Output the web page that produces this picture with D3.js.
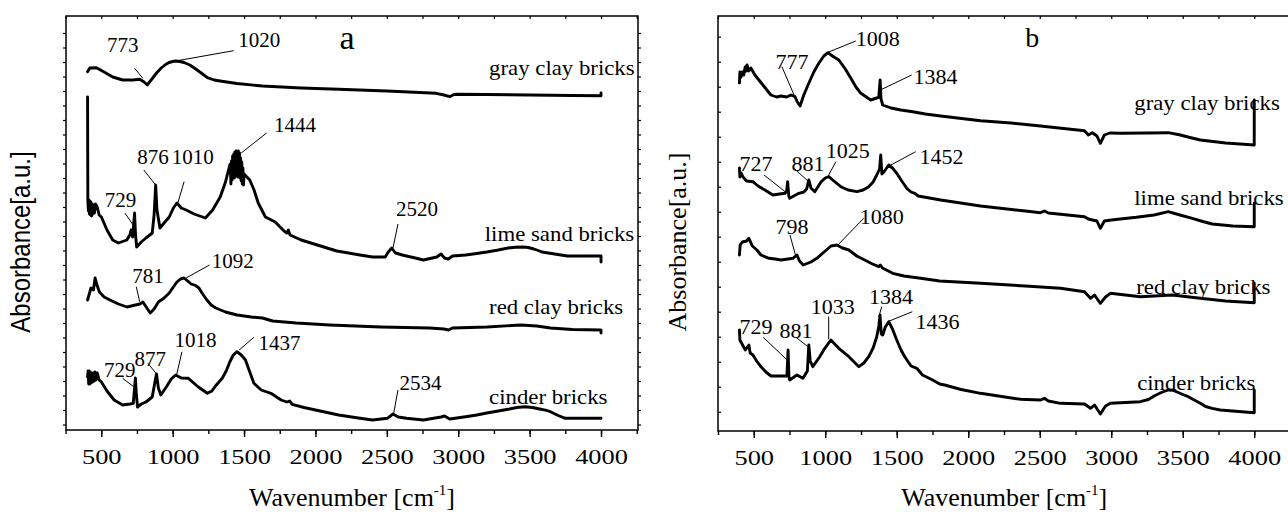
<!DOCTYPE html>
<html>
<head>
<meta charset="utf-8">
<script src="https://cdn.jsdelivr.net/npm/d3@7"></script>
<style>
  body { margin: 0; background: #fff; }
  svg { display: block; }
  .serif { font-family: "Liberation Serif", "Times New Roman", Tinos, "DejaVu Serif", serif; }
  .sans { font-family: "Liberation Sans", Arial, Arimo, "DejaVu Sans", sans-serif; }
</style>
</head>
<body>
<svg id="chart" width="1288" height="514"></svg>
<script>
// ---------- axis ticks ----------
const xTickValues = [500, 1000, 1500, 2000, 2500, 3000, 3500, 4000];
const xTickLabels = ["500", "1000", "1500", "2000", "2500", "3000", "3500", "4000"];
const xMinorTicks = d3.range(250, 4300, 250);

// ---------- panel a spectra: [wavenumber, absorbance (stacked, a.u.)] ----------
const aGray = [
  [404,35.83],[420,36.2],[466,36.23],[520,35.8],[580,35.3],[650,35.0],[720,35.0],[769,35.07],
  [800,34.8],[822,34.5],[860,35.2],[890,35.75],[920,36.2],[950,36.55],[975,36.75],[1000,36.85],[1021,36.9],
  [1050,36.85],[1080,36.75],[1120,36.5],[1154,36.17],[1200,35.7],[1243,35.23],[1290,35.0],[1332,34.9],
  [1450,34.65],[1629,34.4],[1900,34.2],[2163,34.07],[2500,33.9],[2845,33.67],[2900,33.5],[2940,33.33],
  [2970,33.55],[2994,33.57],[3200,33.55],[3498,33.5],[3800,33.45],[4000,33.43],[4000,33.7]
];
const aLime = [
  [404,33.3],[405,28.0],[406,23.0],[410,21.9],[413,23.0],[417,21.6],[420,22.9],[424,21.5],[428,22.8],
  [432,21.4],[436,22.6],[440,21.6],[446,22.5],[452,21.7],[460,22.6],[472,22.3],[485,21.5],[501,21.3],
  [540,20.0],[580,19.0],[620,18.7],[679,19.0],[700,19.5],[709,20.0],[720,19.3],[733,21.7],[740,19.5],
  [748,18.3],[780,18.8],[813,19.2],[857,19.7],[870,21.5],[881,24.5],[890,22.0],[911,20.2],[940,20.7],
  [976,21.3],[1005,22.2],[1030,22.7],[1060,22.2],[1095,22.0],[1150,21.6],[1229,21.2],[1280,22.0],[1333,23.3],
  [1370,24.8],[1400,26.5],[1404,26.6],[1408,24.6],[1412,26.9],[1416,25.0],[1420,27.4],[1424,25.3],
  [1428,27.6],[1432,25.2],[1436,27.8],[1440,25.4],[1444,27.9],[1448,25.6],[1452,27.8],[1456,25.3],
  [1460,27.9],[1464,25.5],[1468,27.7],[1472,25.2],[1476,27.2],[1480,24.9],[1484,26.8],[1488,24.6],
  [1492,26.2],[1496,24.5],[1500,25.6],[1540,25.0],[1570,24.0],[1599,22.7],[1650,21.3],[1718,20.8],
  [1780,19.9],[1800,19.7],[1810,20.0],[1822,19.5],[1900,19.0],[2013,18.5],[2150,17.9],[2311,17.5],
  [2400,17.3],[2489,17.3],[2510,17.8],[2534,18.2],[2560,17.7],[2608,17.5],[2700,17.2],[2756,17.0],
  [2850,17.3],[2880,17.6],[2904,17.2],[2930,17.1],[2960,17.4],[3052,17.5],[3130,17.65],[3200,17.8],
  [3280,18.0],[3349,18.2],[3400,18.28],[3453,18.3],[3490,18.25],[3530,18.1],[3560,17.95],[3587,17.8],
  [3675,17.6],[3764,17.4],[4000,17.4],[4000,16.8]
];
const aRed = [
  [404,13.0],[428,14.2],[445,14.0],[457,15.2],[470,14.5],[487,13.8],[520,13.3],[561,13.0],[620,12.6],
  [680,12.3],[740,12.5],[770,12.6],[792,12.8],[810,12.4],[843,11.7],[870,12.1],[900,12.8],[940,13.2],
  [976,13.7],[1005,14.3],[1030,14.8],[1055,15.1],[1080,15.2],[1105,14.9],[1130,14.6],[1160,14.45],
  [1184,14.2],[1210,13.6],[1240,13.0],[1270,12.5],[1302,12.2],[1370,11.8],[1451,11.5],[1550,11.3],
  [1629,11.2],[1700,10.9],[1866,10.7],[2100,10.5],[2459,10.3],[2800,10.2],[2900,10.1],[2933,10.0],
  [2960,10.2],[3201,10.3],[3438,10.5],[3550,10.4],[3646,10.2],[3800,10.05],[4000,10.0],[4000,9.7]
];
const aCinder = [
  [404,5.3],[408,5.9],[412,4.6],[416,5.9],[420,4.6],[424,5.8],[428,4.7],[432,5.6],[438,4.8],[444,5.7],
  [450,4.9],[456,5.8],[462,5.0],[472,5.7],[485,5.0],[501,4.8],[540,3.9],[590,3.0],[650,2.5],[700,2.6],
  [724,2.67],[732,4.0],[739,5.2],[746,3.5],[754,2.3],[780,2.6],[813,2.8],[857,3.3],[872,4.5],[887,5.6],
  [900,4.2],[917,3.5],[960,4.4],[990,5.1],[1021,5.5],[1060,5.2],[1110,5.17],[1180,4.3],[1243,3.67],
  [1275,3.9],[1300,4.4],[1347,5.17],[1375,5.9],[1400,6.8],[1425,7.5],[1451,7.83],[1480,7.5],[1510,7.0],
  [1540,5.8],[1569,4.67],[1620,4.0],[1688,3.67],[1760,3.0],[1800,2.8],[1820,2.9],[1837,2.57],[1920,2.25],
  [2000,2.0],[2163,1.5],[2300,1.2],[2400,1.0],[2504,1.17],[2543,1.6],[2580,1.3],[2637,1.17],[2756,1.0],
  [2880,1.3],[2904,1.4],[2940,1.1],[3052,1.33],[3130,1.5],[3200,1.7],[3280,1.9],[3349,2.07],[3410,2.25],
  [3468,2.33],[3520,2.25],[3570,2.1],[3610,1.98],[3646,1.83],[3700,1.45],[3750,1.17],[4000,1.17]
];

// ---------- panel b spectra ----------
const bGray = [
  [400,34.8],[403,35.9],[412,35.4],[420,35.9],[430,35.6],[440,36.4],[447,36.0],[453,36.6],[465,36.0],
  [480,36.3],[508,35.6],[564,34.6],[620,33.6],[660,33.4],[690,33.5],[730,33.4],[760,33.6],[788,33.43],
  [805,32.9],[824,32.5],[850,33.6],[885,34.77],[920,35.9],[955,36.77],[990,37.5],[1019,37.83],[1050,37.5],
  [1095,37.1],[1140,36.2],[1179,35.27],[1215,34.4],[1249,33.77],[1318,33.1],[1360,33.3],[1374,33.37],
  [1384,35.1],[1390,33.2],[1402,32.6],[1460,32.3],[1528,32.1],[1612,31.93],[1700,31.7],[1807,31.5],
  [2086,31.03],[2300,30.8],[2505,30.5],[2813,30.03],[2840,29.6],[2868,29.83],[2900,29.5],[2924,28.77],
  [2952,29.6],[2990,29.8],[3064,29.77],[3250,29.8],[3399,29.83],[3483,29.6],[3550,29.35],[3623,29.1],
  [3800,28.8],[4000,28.6],[4000,33.1]
];
const bLime = [
  [400,26.3],[403,25.4],[412,25.8],[425,25.4],[450,25.0],[494,24.93],[530,24.5],[578,24.1],[634,23.6],
  [680,23.7],[718,23.77],[730,24.0],[737,24.93],[745,23.5],[751,23.27],[780,23.5],[816,23.77],[850,23.9],
  [870,24.2],[885,25.1],[900,24.3],[927,23.93],[970,24.9],[1000,25.3],[1025,25.43],[1060,25.0],[1109,24.43],
  [1160,24.1],[1221,23.93],[1265,24.1],[1304,24.43],[1335,24.9],[1360,25.6],[1380,26.2],[1388,27.6],
  [1396,25.7],[1410,25.9],[1444,26.6],[1470,26.3],[1500,25.77],[1535,25.0],[1570,24.27],[1600,23.9],
  [1626,23.77],[1650,23.5],[1807,23.1],[2086,22.5],[2400,22.0],[2505,21.83],[2533,22.0],[2560,21.8],
  [2813,21.43],[2840,21.2],[2868,21.1],[2900,21.0],[2924,20.27],[2952,21.0],[3000,21.1],[3176,21.37],
  [3300,21.6],[3399,21.93],[3480,21.6],[3567,21.27],[3640,20.95],[3706,20.7],[3850,20.5],[4000,20.43],
  [4000,22.77]
];
const bRed = [
  [400,17.6],[405,18.6],[420,18.9],[450,19.0],[466,19.27],[490,18.5],[522,18.1],[550,17.6],[606,17.27],
  [650,17.2],[690,17.1],[740,17.2],[774,17.27],[802,17.6],[820,17.0],[846,16.6],[900,16.9],[941,17.27],
  [1000,18.0],[1040,18.5],[1081,18.6],[1120,18.3],[1165,18.1],[1220,17.5],[1276,17.1],[1330,16.7],
  [1374,16.43],[1385,16.6],[1400,16.3],[1472,15.77],[1550,15.5],[1667,15.27],[1800,15.0],[2086,14.77],
  [2400,14.5],[2645,14.27],[2813,13.93],[2855,13.27],[2883,13.6],[2924,12.77],[2960,13.4],[2994,13.77],
  [3204,13.43],[3300,13.5],[3427,13.6],[3623,13.27],[3800,13.0],[4000,12.83],[4000,14.77]
];
const bCinder = [
  [400,10.1],[403,9.1],[441,8.1],[466,8.6],[475,7.8],[494,7.6],[520,7.0],[550,6.43],[585,5.9],[620,5.5],
  [690,5.5],[732,5.5],[740,8.1],[746,5.4],[751,5.1],[802,5.6],[844,5.27],[875,6.0],[885,8.6],[895,7.0],
  [913,6.43],[960,7.4],[997,8.27],[1039,9.1],[1095,8.27],[1165,7.43],[1235,6.43],[1270,6.8],[1304,7.43],
  [1335,8.3],[1360,9.43],[1375,10.5],[1383,11.6],[1392,9.7],[1402,9.6],[1420,10.4],[1444,10.93],
  [1470,10.2],[1500,9.1],[1530,8.1],[1556,7.43],[1600,6.5],[1640,6.27],[1680,5.6],[1751,5.1],[1800,4.7],
  [1835,4.6],[1950,4.15],[2086,3.77],[2366,3.17],[2505,3.1],[2533,3.27],[2560,3.0],[2645,2.77],[2813,2.7],
  [2855,2.27],[2883,2.6],[2924,1.7],[2960,2.5],[2994,2.77],[3100,2.85],[3204,2.93],[3260,3.15],[3300,3.5],
  [3350,3.85],[3399,4.1],[3430,4.08],[3460,3.9],[3500,3.65],[3539,3.43],[3580,3.1],[3620,2.8],[3660,2.45],
  [3706,2.27],[3762,2.1],[4000,1.83],[4000,4.1]
];

// ---------- band assignments: label text, label centre, leader line (data units) ----------
const aPeaks = [
  { text: "773",  label: [650, 38.5],   lead: [[733, 36.17], [792, 35.17]] },
  { text: "1020", label: [1606, 39.0],  lead: [[1427, 37.93], [1021, 36.9]] },
  { text: "729",  label: [635, 23.0],   lead: [[665, 21.7], [724, 20.5]] },
  { text: "876",  label: [863, 27.33],  lead: [[798, 26.0], [881, 24.5]] },
  { text: "1010", label: [1140, 27.33], lead: [[1080, 24.83], [1036, 22.7]] },
  { text: "1444", label: [1857, 30.5],  lead: [[1658, 29.7], [1480, 27.7]] },
  { text: "2520", label: [2712, 22.1],  lead: [[2578, 20.6], [2543, 18.2]] },
  { text: "781",  label: [827, 15.4],   lead: [[745, 14.33], [769, 12.83]] },
  { text: "1092", label: [1421, 16.93], lead: [[1258, 16.5], [1094, 15.2]] },
  { text: "729",  label: [629, 6.0],    lead: [[650, 5.17], [733, 4.27]] },
  { text: "877",  label: [843, 7.17],   lead: [[827, 6.67], [887, 5.6]] },
  { text: "1018", label: [1160, 9.0],   lead: [[1065, 7.83], [1029, 5.6]] },
  { text: "1437", label: [1748, 8.73],  lead: [[1569, 9.27], [1466, 8.0]] },
  { text: "2534", label: [2735, 4.73],  lead: [[2578, 4.0], [2548, 1.67]] }
];
const bPeaks = [
  { text: "777",  label: [767, 36.93],  lead: [[697, 36.43], [787, 33.43]] },
  { text: "1008", label: [1367, 39.27], lead: [[1213, 39.0], [1013, 37.83]] },
  { text: "1384", label: [1771, 35.43], lead: [[1604, 35.6], [1386, 34.1]] },
  { text: "727",  label: [516, 26.77],  lead: [[572, 25.6], [734, 23.77]] },
  { text: "881",  label: [879, 26.77],  lead: [[781, 26.27], [879, 25.0]] },
  { text: "1025", label: [1158, 28.1],  lead: [[1074, 26.93], [1018, 25.43]] },
  { text: "1452", label: [1813, 27.43], lead: [[1632, 27.93], [1459, 26.6]] },
  { text: "798",  label: [767, 20.43],  lead: [[753, 19.6], [795, 17.43]] },
  { text: "1080", label: [1395, 21.43], lead: [[1269, 21.27], [1088, 18.6]] },
  { text: "729",  label: [516, 10.43],  lead: [[566, 9.37], [734, 7.1]] },
  { text: "881",  label: [795, 10.1],   lead: [[795, 9.37], [879, 8.43]] },
  { text: "1033", label: [1052, 12.43], lead: [[1024, 11.43], [1024, 9.17]] },
  { text: "1384", label: [1459, 13.43], lead: [[1395, 12.43], [1375, 11.43]] },
  { text: "1436", label: [1785, 10.93], lead: [[1609, 11.93], [1437, 10.93]] }
];

// ---------- sample names: text, start wavenumber, absorbance ----------
const aNames = [
  ["gray clay bricks", 3216, 36.2],
  ["lime sand bricks", 3186, 19.6],
  ["red clay bricks", 3216, 12.27],
  ["cinder bricks", 3216, 3.33]
];
const bNames = [
  ["gray clay bricks", 3161, 32.77],
  ["lime sand bricks", 3161, 23.27],
  ["red clay bricks", 3175, 14.43],
  ["cinder bricks", 3181, 4.83]
];

const svg = d3.select("#chart");

const panels = [
  {
    id: "a", letter: "a", letterAt: [2222, 39.33], letterSize: 34,
    left: 66, right: 638, top: 16, bottom: 430,
    xDomain: [253, 4259], yDomain: [0, 41.4],
    yTicks: d3.range(39.7, 0, -1.45), yTickOut: true,
    series: [aGray, aLime, aRed, aCinder], peaks: aPeaks, peakSize: 21, names: aNames,
    yTitle: { x: 30, y: 242, cls: "sans", size: 24, sx: 1.12 }
  },
  {
    id: "b", letter: "b", letterAt: [2447, 39.43], letterSize: 28,
    left: 718, right: 1292, top: 16, bottom: 431,
    xDomain: [250, 4264], yDomain: [0, 41.5],
    yTicks: d3.range(39.43, 0, -2.5), yTickOut: false,
    series: [bGray, bLime, bRed, bCinder], peaks: bPeaks, peakSize: 22, names: bNames,
    yTitle: { x: 686, y: 242, cls: "serif", size: 26, sx: 1 }
  }
];

// text helper: optionally stretched label anchored at (px, py)
function stretchedText(parent, px, py, str, opts) {
  const g = parent.append("g")
    .attr("transform", `translate(${px},${py}) scale(${opts.sx || 1},1)`);
  return g.append("text")
    .attr("class", "serif")
    .attr("x", 0).attr("y", 0)
    .attr("text-anchor", opts.anchor || "middle")
    .attr("dy", opts.dy || "0.35em")
    .style("font-size", opts.size + "px")
    .attr("fill", "#000")
    .text(str);
}

panels.forEach(p => {
  const x = d3.scaleLinear().domain(p.xDomain).range([p.left, p.right]);
  const y = d3.scaleLinear().domain(p.yDomain).range([p.bottom, p.top]);
  const g = svg.append("g").attr("class", "panel-" + p.id);
  const minorVals = xMinorTicks.filter(v => v >= p.xDomain[0] - 5 && v <= p.xDomain[1]);

  // bottom axis: minor ticks, then labelled major ticks
  g.append("g").attr("transform", `translate(0,${p.bottom})`)
    .call(d3.axisBottom(x).tickValues(minorVals).tickSize(4).tickFormat(""))
    .call(s => s.select(".domain").remove())
    .selectAll("line").attr("stroke-width", 1.4);

  const majorAxis = d3.axisBottom(x).tickValues(xTickValues)
    .tickSize(7).tickPadding(11)
    .tickFormat((d, i) => xTickLabels[i]);
  const ax = g.append("g").attr("transform", `translate(0,${p.bottom})`).call(majorAxis);
  ax.attr("font-family", null).attr("font-size", null);
  ax.select(".domain").remove();
  ax.selectAll("line").attr("stroke-width", 1.4);
  ax.selectAll("text")
    .attr("class", "serif").style("font-size", "22px").attr("fill", "#000")
    .attr("transform", "scale(1.2,1)");

  // top ticks (inward)
  g.append("g").attr("transform", `translate(0,${p.top})`)
    .call(d3.axisTop(x).tickValues(minorVals).tickSize(-3).tickFormat(""))
    .call(s => s.select(".domain").remove())
    .selectAll("line").attr("stroke-width", 1.2);

  // left / right ticks
  const tk = p.yTickOut ? 3 : -3;
  g.append("g").attr("transform", `translate(${p.left},0)`)
    .call(d3.axisLeft(y).tickValues(p.yTicks).tickSize(tk).tickFormat(""))
    .call(s => s.select(".domain").remove())
    .selectAll("line").attr("stroke-width", 1.2);
  g.append("g").attr("transform", `translate(${p.right},0)`)
    .call(d3.axisRight(y).tickValues(p.yTicks).tickSize(tk).tickFormat(""))
    .call(s => s.select(".domain").remove())
    .selectAll("line").attr("stroke-width", 1.2);

  // frame
  g.append("rect")
    .attr("x", p.left).attr("y", p.top)
    .attr("width", p.right - p.left).attr("height", p.bottom - p.top)
    .attr("fill", "none").attr("stroke", "#000").attr("stroke-width", 1.5);

  // spectra
  const line = d3.line().x(d => x(d[0])).y(d => y(d[1])).curve(d3.curveLinear);
  g.selectAll("path.spectrum").data(p.series).join("path")
    .attr("class", "spectrum")
    .attr("d", line)
    .attr("fill", "none").attr("stroke", "#000")
    .attr("stroke-width", 2.9).attr("stroke-linejoin", "round").attr("stroke-linecap", "round");

  // band assignments
  g.selectAll("line.lead").data(p.peaks).join("line")
    .attr("class", "lead")
    .attr("x1", d => x(d.lead[0][0])).attr("y1", d => y(d.lead[0][1]))
    .attr("x2", d => x(d.lead[1][0])).attr("y2", d => y(d.lead[1][1]))
    .attr("stroke", "#000").attr("stroke-width", 1);
  p.peaks.forEach(d => {
    stretchedText(g, x(d.label[0]), y(d.label[1]), d.text, { size: p.peakSize });
  });

  // sample names
  p.names.forEach(n => {
    stretchedText(g, x(n[1]), y(n[2]), n[0], { size: 20, sx: 1.14, anchor: "start" });
  });

  // panel letter
  stretchedText(g, x(p.letterAt[0]), y(p.letterAt[1]), p.letter, { size: p.letterSize });

  // x-axis title
  const xt = g.append("text")
    .attr("class", "serif")
    .attr("x", (p.left + Math.min(p.right, 1290.5)) / 2).attr("y", 506)
    .attr("text-anchor", "middle")
    .style("font-size", "26px").attr("fill", "#000");
  xt.append("tspan").text("Wavenumber [cm");
  xt.append("tspan").style("font-size", "15px").attr("dy", -11).text("-1");
  xt.append("tspan").attr("dy", 11).text("]");

  // y-axis title
  const t = p.yTitle;
  svg.append("g")
    .attr("transform", `translate(${t.x},${t.y}) scale(${t.sx},1) rotate(-90)`)
    .append("text")
    .attr("class", t.cls)
    .attr("text-anchor", "middle")
    .style("font-size", t.size + "px").attr("fill", "#000")
    .text("Absorbance[a.u.]");
});
</script>
</body>
</html>
